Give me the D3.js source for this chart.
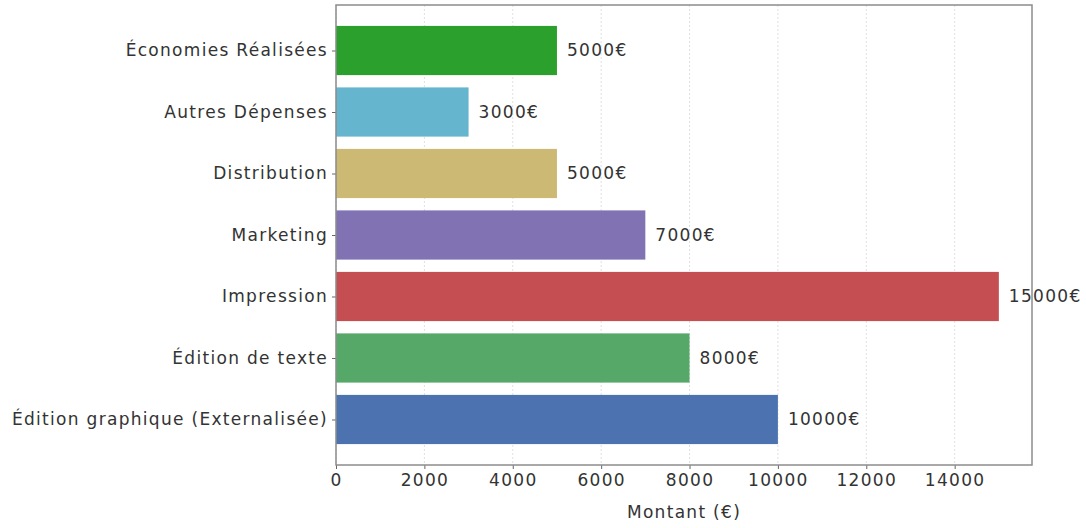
<!DOCTYPE html>
<html>
<head>
<meta charset="utf-8">
<script src="https://cdn.jsdelivr.net/npm/d3@7"></script>
<style>
  body { margin: 0; background: #fff; }
  svg text { font-family: "DejaVu Sans", sans-serif; letter-spacing: 1.3px; }
</style>
</head>
<body>
<svg id="chart"></svg>
<script>
var width = 1086;
var height = 528;

// data, top to bottom as drawn
var categories = [
  "Économies Réalisées",
  "Autres Dépenses",
  "Distribution",
  "Marketing",
  "Impression",
  "Édition de texte",
  "Édition graphique (Externalisée)"
];
var amounts = [5000, 3000, 5000, 7000, 15000, 8000, 10000];
var colors = ["#2ca02c", "#64b5cd", "#ccb974", "#8172b3", "#c44e52", "#55a868", "#4c72b0"];
var xTicks = [0, 2000, 4000, 6000, 8000, 10000, 12000, 14000];

var margin = { top: 5, right: 54, bottom: 63, left: 336 };
var plotW = width - margin.left - margin.right;
var plotH = height - margin.top - margin.bottom;
var fontFam = "'DejaVu Sans', sans-serif";

var svg = d3.select("#chart").attr("width", width).attr("height", height);
var g = svg.append("g").attr("transform", `translate(${margin.left}, ${margin.top})`);

var xScale = d3.scaleLinear().domain([0, 15750]).range([0, plotW]);
// matplotlib-like: positions -0.74 .. 6.74, top item at index 0
var yScale = d3.scaleLinear().domain([-0.74, 6.74]).range([0, plotH]);
var step = yScale(1) - yScale(0);
var barH = step * 0.8;

var data = categories.map((c, i) => ({ name: c, value: amounts[i], color: colors[i], idx: i }));

// grid
g.selectAll("line.grid")
  .data(xTicks)
  .enter()
  .append("line")
  .attr("class", "grid")
  .attr("x1", (d) => xScale(d))
  .attr("x2", (d) => xScale(d))
  .attr("y1", 0)
  .attr("y2", plotH)
  .attr("stroke", "#e0e0e0")
  .attr("stroke-width", 1)
  .attr("stroke-dasharray", "2,2");

// bars
g.selectAll("rect.bar")
  .data(data)
  .enter()
  .append("rect")
  .attr("class", "bar")
  .attr("x", xScale(0))
  .attr("y", (d) => yScale(d.idx) - barH / 2)
  .attr("width", (d) => xScale(d.value) - xScale(0))
  .attr("height", barH)
  .attr("fill", (d) => d.color);

// value labels
g.selectAll("text.val")
  .data(data)
  .enter()
  .append("text")
  .attr("class", "val")
  .attr("x", (d) => xScale(d.value) + 10)
  .attr("y", (d) => yScale(d.idx))
  .attr("dy", "0.35em")
  .attr("font-size", 17)
  .attr("fill", "#333")
  .text((d) => d.value + "€");

// axes
var xAxis = d3.axisBottom(xScale).tickValues(xTicks).tickSize(4).tickPadding(5).tickFormat(d3.format("d"));
var xg = g.append("g").attr("transform", `translate(0, ${plotH})`).call(xAxis);
xg.attr("font-family", fontFam);
xg.select(".domain").remove();
xg.selectAll("line").attr("stroke", "#666");
xg.selectAll("text").attr("font-size", 17).attr("fill", "#333");

var yAxis = d3.axisLeft(yScale).tickValues(d3.range(categories.length)).tickSize(4).tickPadding(4)
  .tickFormat((i) => categories[i]);
var yg = g.append("g").call(yAxis);
yg.attr("font-family", fontFam);
yg.select(".domain").remove();
yg.selectAll("line").attr("stroke", "#666");
yg.selectAll("text").attr("font-size", 17).attr("fill", "#333");

// frame
g.append("rect")
  .attr("x", 0)
  .attr("y", 0)
  .attr("width", plotW)
  .attr("height", plotH)
  .attr("fill", "none")
  .attr("stroke", "#8c8c8c")
  .attr("stroke-width", 1.5);

// x label
svg.append("text")
  .attr("x", margin.left + plotW / 2)
  .attr("y", 518)
  .attr("text-anchor", "middle")
  .attr("font-size", 17)
  .attr("fill", "#333")
  .text("Montant (€)");
</script>
</body>
</html>
